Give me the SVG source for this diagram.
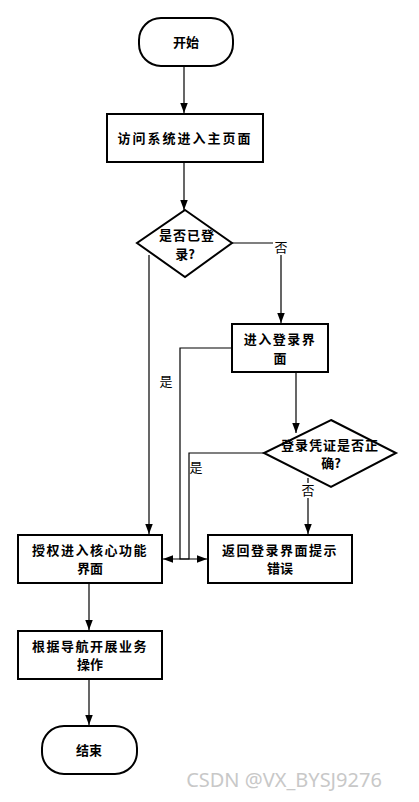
<svg xmlns="http://www.w3.org/2000/svg" width="419" height="802" viewBox="0 0 419 802">
<defs>
<style>
.n{fill:#fff;stroke:#000;stroke-width:2}
.t{font-family:"Noto Sans CJK SC","Noto Sans CJK JP",sans-serif;font-size:13px;font-weight:bold;fill:#000;text-anchor:middle}
.c{fill:none;stroke:#000;stroke-width:1.2}
.l{font-family:"Noto Sans CJK SC",sans-serif;font-size:13px;fill:#000;text-anchor:middle}
</style>
<marker id="a" markerWidth="10" markerHeight="14" refX="12" refY="4.5" orient="auto" markerUnits="userSpaceOnUse" viewBox="0 0 12 9">
<path d="M0,0 L12,4.5 L0,9 Z" fill="#000"/>
</marker>
</defs>
<rect width="419" height="802" fill="#fff"/>
<g id="connectors">
<line class="c" x1="184" y1="66" x2="184" y2="113" marker-end="url(#a)"/>
<line class="c" x1="184" y1="162" x2="184" y2="210" marker-end="url(#a)"/>
<polyline class="c" points="232,243 281,243 281,323" marker-end="url(#a)"/>
<line class="c" x1="149" y1="255" x2="149" y2="534" marker-end="url(#a)"/>
<line class="c" x1="296" y1="372" x2="296" y2="433" marker-end="url(#a)"/>
<polyline class="c" points="232,348 180,348 180,559 207,559" marker-end="url(#a)"/>
<polyline class="c" points="264,453 189,453 189,559 163,559" marker-end="url(#a)"/>
<line class="c" x1="308" y1="478" x2="308" y2="534" marker-end="url(#a)"/>
<line class="c" x1="89" y1="583" x2="89" y2="630" marker-end="url(#a)"/>
<line class="c" x1="89" y1="679" x2="89" y2="725" marker-end="url(#a)"/>
<rect x="273" y="239" width="16" height="16" fill="#fff"/>
<text class="l" x="281" y="252">否</text>
<text class="l" x="166" y="386">是</text>
<text class="l" x="196" y="472">是</text>
<rect x="300" y="483" width="16" height="15" fill="#fff"/>
<text class="l" x="308" y="495">否</text>
</g>
<g id="start">
<rect class="n" x="139" y="18" width="94" height="48" rx="22" ry="22"/>
<text class="t" x="186" y="47">开始</text>
</g>
<g id="visit">
<rect class="n" x="107" y="114" width="156" height="48"/>
<text class="t" x="185" y="143" letter-spacing="2">访问系统进入主页面</text>
</g>
<g id="logged">
<polygon class="n" points="185,210 232,243 185,277 137,243"/>
<text class="t" x="187" y="240" letter-spacing="1">是否已登</text>
<text class="t" x="185" y="259">录?</text>
</g>
<g id="login">
<rect class="n" x="232" y="324" width="96" height="48"/>
<text class="t" x="280" y="344" letter-spacing="1.5">进入登录界</text>
<text class="t" x="280" y="363">面</text>
</g>
<g id="check">
<polygon class="n" points="331,420 396,453 331,487 264,453"/>
<text class="t" x="330" y="450" letter-spacing="1">登录凭证是否正</text>
<text class="t" x="331" y="468">确?</text>
</g>
<g id="auth">
<rect class="n" x="18" y="535" width="144" height="48"/>
<text class="t" x="90" y="555" letter-spacing="1.5">授权进入核心功能</text>
<text class="t" x="90" y="573">界面</text>
</g>
<g id="back">
<rect class="n" x="208" y="535" width="144" height="48"/>
<text class="t" x="280" y="555" letter-spacing="1.5">返回登录界面提示</text>
<text class="t" x="280" y="573">错误</text>
</g>
<g id="nav">
<rect class="n" x="18" y="631" width="144" height="48"/>
<text class="t" x="90" y="651" letter-spacing="1.5">根据导航开展业务</text>
<text class="t" x="90" y="669">操作</text>
</g>
<g id="end">
<rect class="n" x="42" y="726" width="95" height="48" rx="22" ry="22"/>
<text class="t" x="89" y="755">结束</text>
</g>
<text x="284" y="787" font-family="'Noto Sans','DejaVu Sans',sans-serif" font-size="20" fill="#c8c8c8" text-anchor="middle">CSDN @VX_BYSJ9276</text>
</svg>
